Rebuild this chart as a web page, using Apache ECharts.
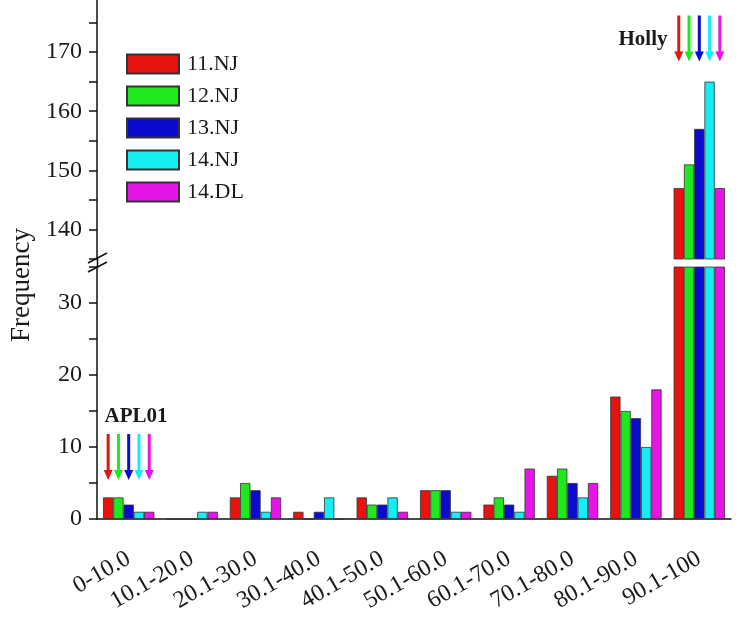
<!DOCTYPE html>
<html>
<head>
<meta charset="utf-8" />
<style>
  html, body { margin: 0; padding: 0; background: #fff; }
  #main { width: 739px; height: 621px; }
</style>
</head>
<body>
<div id="main"></div>
<script src="https://cdn.jsdelivr.net/npm/echarts@6/dist/echarts.min.js"></script>
<script>
// data
const categories = ['0-10.0', '10.1-20.0', '20.1-30.0', '30.1-40.0', '40.1-50.0',
  '50.1-60.0', '60.1-70.0', '70.1-80.0', '80.1-90.0', '90.1-100'];
const seriesNames = ['11.NJ', '12.NJ', '13.NJ', '14.NJ', '14.DL'];
const nj11 = [3, 0, 3, 1, 3, 4, 2, 6, 17, 147];
const nj12 = [3, 0, 5, 0, 2, 4, 3, 7, 15, 151];
const nj13 = [2, 0, 4, 1, 2, 4, 2, 5, 14, 157];
const nj14 = [1, 1, 1, 3, 3, 1, 1, 3, 10, 165];
const dl14 = [1, 1, 3, 0, 1, 1, 7, 5, 18, 147];
const lowerTicks = [0, 10, 20, 30];
const upperTicks = [140, 150, 160, 170];
// arrow annotations (category, value)
const aplArrow = ['0-10.0', 8.6];
const hollyArrow = ['90.1-100', 172.3];

const values = [nj11, nj12, nj13, nj14, dl14];
const colors = ['#e8120f', '#1fe81f', '#0b0bd0', '#14eef2', '#e614e6'];
const font = 'Liberation Serif';
const arrowPath = 'path://M3,0 L6,0 L6,36 L9,36 L4.5,46 L0,36 L3,36 Z';

const chart = echarts.init(document.getElementById('main'));

function makeBars(lower) {
  return seriesNames.map((name, i) => ({
    name: name,
    type: 'bar',
    xAxisIndex: lower ? 0 : 2,
    yAxisIndex: lower ? 0 : 1,
    data: values[i],
    barGap: '0%',
    barCategoryGap: '19%',
    itemStyle: { color: colors[i], borderColor: '#333', borderWidth: 0.8 },
    markPoint: {
      symbol: arrowPath,
      symbolSize: [9, 46],
      symbolKeepAspect: false,
      label: { show: false },
      itemStyle: { color: colors[i], borderWidth: 0 },
      data: [{ coord: lower ? aplArrow : hollyArrow }]
    }
  }));
}

const yBase = {
  type: 'value',
  interval: 5,
  splitLine: { show: false },
  axisLine: { show: true, lineStyle: { color: '#111', width: 1.5 } },
  axisTick: { show: true, length: 8, lineStyle: { color: '#111', width: 1.5 } }
};

const option = {
  animation: false,
  backgroundColor: '#fff',
  grid: [
    { left: 97, right: 8, top: 267, bottom: 102, outerBoundsMode: 'none' },
    { left: 97, right: 8, top: -7, height: 266, outerBoundsMode: 'none' }
  ],
  legend: {
    data: seriesNames,
    orient: 'vertical',
    left: 121,
    top: 48,
    itemWidth: 52,
    itemHeight: 19,
    itemGap: 10,
    icon: 'rect',
    textStyle: { fontFamily: font, fontSize: 22, color: '#1a1a1a', padding: [0, 0, 0, 3] }
  },
  xAxis: [
    {
      type: 'category', gridIndex: 0, data: categories,
      axisLine: { lineStyle: { color: '#111', width: 1.5 } },
      axisTick: { alignWithLabel: true, length: 10, lineStyle: { color: '#111', width: 1.5 } },
      axisLabel: { interval: 0, rotate: 30, margin: 38, fontFamily: font, fontSize: 24, color: '#1a1a1a' }
    },
    {
      type: 'category', gridIndex: 0, data: categories, position: 'bottom',
      axisLine: { show: false },
      axisTick: { length: 5, lineStyle: { color: '#111', width: 1.5 } },
      axisLabel: { show: false }
    },
    { type: 'category', gridIndex: 1, data: categories, show: false }
  ],
  yAxis: [
    Object.assign({}, yBase, {
      gridIndex: 0, min: 0, max: 35,
      axisLabel: {
        margin: 15, fontFamily: font, fontSize: 24, color: '#1a1a1a',
        formatter: v => lowerTicks.includes(v) ? String(v) : ''
      }
    }),
    Object.assign({}, yBase, {
      gridIndex: 1, min: 135, max: 180,
      axisLabel: {
        margin: 15, fontFamily: font, fontSize: 24, color: '#1a1a1a',
        formatter: v => upperTicks.includes(v) ? String(v) : ''
      }
    })
  ],
  series: makeBars(true).concat(makeBars(false)),
  graphic: [
    {
      type: 'text', x: 22, y: 285, rotation: Math.PI / 2,
      style: { text: 'Frequency', font: '27px "Liberation Serif"', fill: '#1a1a1a',
        textAlign: 'center', textVerticalAlign: 'middle' }
    },
    {
      type: 'text', x: 643, y: 40,
      style: { text: 'Holly', font: 'bold 21px "Liberation Serif"', fill: '#1a1a1a',
        textAlign: 'center', textVerticalAlign: 'middle' }
    },
    {
      type: 'text', x: 136, y: 417,
      style: { text: 'APL01', font: 'bold 21px "Liberation Serif"', fill: '#1a1a1a',
        textAlign: 'center', textVerticalAlign: 'middle' }
    },
    // axis break
    { type: 'line', shape: { x1: 97.5, y1: 258, x2: 97.5, y2: 268 }, style: { stroke: '#111', lineWidth: 1.5 } },
    { type: 'line', shape: { x1: 88, y1: 263, x2: 107, y2: 253 }, style: { stroke: '#111', lineWidth: 1.5 } },
    { type: 'line', shape: { x1: 88, y1: 272, x2: 107, y2: 262 }, style: { stroke: '#111', lineWidth: 1.5 } }
  ]
};

chart.setOption(option);
</script>
</body>
</html>
